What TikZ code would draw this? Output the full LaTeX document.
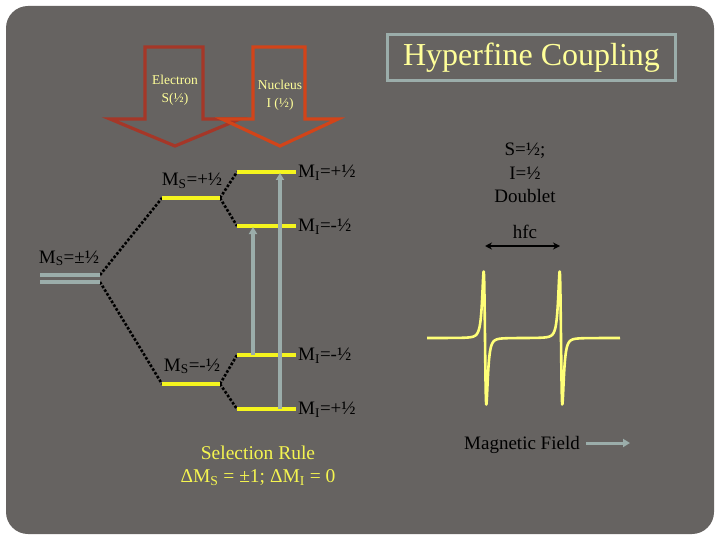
\documentclass[tikz,border=0pt]{standalone}
\usepackage{fontspec}
\setmainfont{Liberation Serif}
\usetikzlibrary{arrows.meta}
\definecolor{bg}{RGB}{102,99,97}
\definecolor{ylw}{RGB}{255,255,153}
\definecolor{selyl}{RGB}{245,245,80}
\definecolor{lvl}{RGB}{245,245,30}
\definecolor{gry}{RGB}{155,173,170}
\definecolor{eRed}{RGB}{165,55,40}
\definecolor{nRed}{RGB}{210,68,25}
\definecolor{spec}{RGB}{255,255,120}
\begin{document}
\begin{tikzpicture}[x=1pt,y=-1pt,
  declare function={lz(\u)=\u/(\u*\u+1)/(\u*\u+1);},
  level/.style={draw=lvl,line width=3.2pt},
  dots/.style={draw=black,line width=2.6pt,dash pattern=on 2.6pt off 1.8pt},
  grayarrow/.style={draw=gry,line width=3.6pt,-{Triangle[width=8pt,length=7pt]}},
  lab/.style={font=\fontsize{19}{22}\selectfont,text=black,inner sep=0pt},
  arrowtxt/.style={font=\fontsize{13.5}{18}\selectfont,text=ylw,align=center,inner sep=0pt},
  bigarrow/.style={line width=3.2pt,line join=miter}
]
\useasboundingbox (0,0) rectangle (720,540);
\fill[bg,rounded corners=22pt] (6,6) rectangle (714,534);

% title
\node[draw=gry,line width=3.4pt,minimum width=288pt,minimum height=46pt,inner sep=0pt,
      text=ylw,font=\fontsize{32}{36}\selectfont] (title) at (531.5,57.5) {Hyperfine Coupling};

% block arrows
\draw[bigarrow,draw=eRed] (145,47) -- (203,47) -- (203,119) -- (240,119) -- (175,146) -- (110,119) -- (145,119) -- cycle;
\draw[bigarrow,draw=nRed] (253,47) -- (305,47) -- (305,119) -- (338,119) -- (280,146) -- (222,119) -- (253,119) -- cycle;
\node[arrowtxt] (etxt) at (175,90) {Electron\\S(½)};
\node[arrowtxt] (ntxt) at (280,95) {Nucleus\\I (½)};

% energy level coordinates
\coordinate (d1a) at (40,275); \coordinate (d1b) at (100,275);
\coordinate (d2a) at (40,282); \coordinate (d2b) at (100,282);
\coordinate (spa) at (162,198); \coordinate (spb) at (220,198);
\coordinate (sma) at (162,384); \coordinate (smb) at (220,384);
\coordinate (i1a) at (237,172); \coordinate (i1b) at (296,172);
\coordinate (i2a) at (237,226); \coordinate (i2b) at (296,226);
\coordinate (i3a) at (237,355); \coordinate (i3b) at (296,355);
\coordinate (i4a) at (237,409); \coordinate (i4b) at (296,409);

% dotted connectors
\draw[dots] (d1b) -- (spa);
\draw[dots] (d2b) -- (sma);
\draw[dots] (spb) -- (i1a);
\draw[dots] (spb) -- (i2a);
\draw[dots] (smb) -- (i3a);
\draw[dots] (smb) -- (i4a);

% levels
\draw[draw=gry,line width=3.2pt] (d1a) -- (d1b);
\draw[draw=gry,line width=3.2pt] (d2a) -- (d2b);
\draw[level] (spa) -- (spb);
\draw[level] (sma) -- (smb);
\draw[level] (i1a) -- (i1b);
\draw[level] (i2a) -- (i2b);
\draw[level] (i3a) -- (i3b);
\draw[level] (i4a) -- (i4b);

% transitions
\coordinate (t1s) at (253,355); \coordinate (t1e) at (253,227);
\coordinate (t2s) at (280,409); \coordinate (t2e) at (280,173);
\draw[grayarrow] (t1s) -- (t1e);
\draw[grayarrow] (t2s) -- (t2e);

% labels
\node[lab,anchor=base] (lms) at (69,263) {M\textsubscript{S}=±½};
\node[lab,anchor=base] (lsp) at (192,186) {M\textsubscript{S}=+½};
\node[lab,anchor=base] (lsm) at (192,371) {M\textsubscript{S}=-½};
\node[lab,anchor=base west] (li1) at (298,177.5) {M\textsubscript{I}=+½};
\node[lab,anchor=base west] (li2) at (298,231.5) {M\textsubscript{I}=-½};
\node[lab,anchor=base west] (li3) at (298,360.5) {M\textsubscript{I}=-½};
\node[lab,anchor=base west] (li4) at (298,414.5) {M\textsubscript{I}=+½};

% selection rule
\node[font=\fontsize{19.5}{22.5}\selectfont,text=selyl,align=center,inner sep=0pt] (sel) at (258,466)
  {Selection Rule\\ΔM\textsubscript{S} = ±1; ΔM\textsubscript{I} = 0};

% right side
\node[lab,align=center,font=\fontsize{19}{23.5}\selectfont] (dbl) at (525,173) {S=½;\\I=½\\Doublet};
\node[lab] (hfc) at (525,232) {hfc};
\coordinate (h1) at (485,246); \coordinate (h2) at (560,246);
\draw[black,line width=2pt,{Stealth[length=7pt,width=7pt]}-{Stealth[length=7pt,width=7pt]}] (h1) -- (h2);

% spectrum
\draw[spec,line width=2.6pt,line join=round] plot[domain=427:620,samples=1000]
  (\x,{338+205*(lz((\x-485)/2.3)+lz((\x-561)/2.3))});

% magnetic field
\node[lab,anchor=base] (mf) at (522,449) {Magnetic Field};
\coordinate (m1) at (586,443); \coordinate (m2) at (630,443);
\draw[draw=gry,line width=3pt,-{Triangle[width=8pt,length=7pt]}] (m1) -- (m2);
\end{tikzpicture}
\end{document}
